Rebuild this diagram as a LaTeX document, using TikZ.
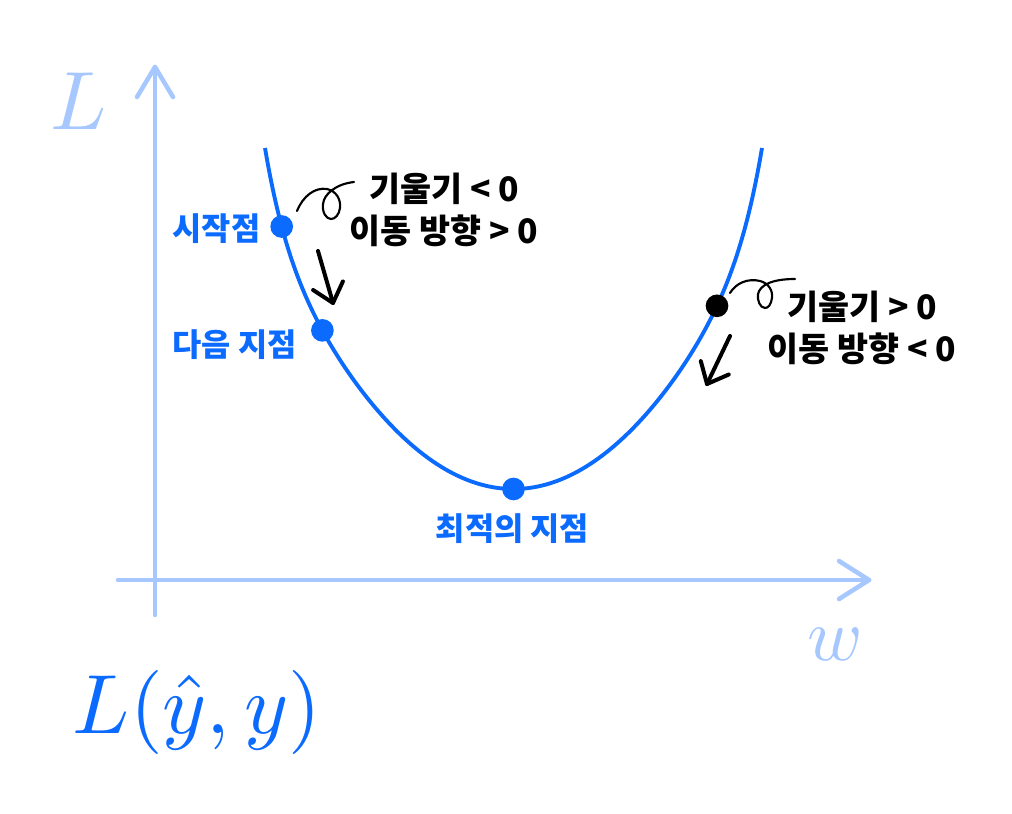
\documentclass[tikz,border=0pt]{standalone}
\usepackage{fontspec}
\newfontfamily\kr{Noto Sans CJK KR}
\definecolor{axisblue}{HTML}{A6C8FF}
\definecolor{mainblue}{HTML}{0B6BFF}
\begin{document}
\begin{tikzpicture}[x=0.75pt,y=-0.75pt,
  declare function={uu(\x)=((\x-513.5)/248.5)^2; fv(\x)=489-341*(0.77*uu(\x)+0.23*uu(\x)^6);},
  axis/.style={draw=axisblue,line width=3.4pt,line cap=round,line join=round},
  curve/.style={draw=mainblue,line width=2.9pt},
  dot/.style={circle,fill=mainblue,inner sep=0pt,minimum size=17pt},
  bdot/.style={dot,fill=black},
  move/.style={draw=black,line width=3pt,line cap=round,line join=round},
  curl/.style={draw=black,line width=1.6pt,line cap=round},
  bluelbl/.style={text=mainblue,font=\kr\bfseries\fontsize{23.8}{28}\selectfont,anchor=base,inner sep=0pt},
  blacklbl/.style={text=black,font=\kr\bfseries\fontsize{25.3}{30}\selectfont,anchor=base,inner sep=0pt},
  mathlbl/.style={inner sep=0pt,anchor=base}
]
\useasboundingbox (0,0) rectangle (1012,813);
\fill[white] (0,0) rectangle (1012,813);

% axes
\coordinate (yb) at (155,615);
\coordinate (yt) at (155,67);
\coordinate (ylw) at (137,97);
\coordinate (yrw) at (173,97);
\coordinate (xl) at (118,580);
\coordinate (xt) at (869,580);
\coordinate (xuw) at (839,561);
\coordinate (xdw) at (839,599);
\draw[axis] (yb) -- (yt);
\draw[axis] (ylw) -- (yt) -- (yrw);
\draw[axis] (xl) -- (xt);
\draw[axis] (xuw) -- (xt) -- (xdw);

\node[mathlbl,scale=6.2,text=axisblue] (Llbl) at (79,129) {$L$};
\node[mathlbl,scale=5.6,text=axisblue] (wlbl) at (835,660) {$w$};
\node[mathlbl,scale=6.3,text=mainblue] (loss) at (197,733) {$L(\hat{y},y)$};

% curve
\draw[curve] plot[domain=265:762,samples=200,smooth] (\x,{fv(\x)});

% points
\node[dot] (start) at (281.7,{fv(281.7)}) {};
\node[dot] (next) at (322.4,{fv(322.4)}) {};
\node[dot] (opt) at (513.5,489) {};
\node[bdot] (cur) at (717,{fv(717)}) {};

% blue labels
\node[bluelbl] (startlbl) at (216.5,240.5) {시작점};
\node[bluelbl] (nextlbl) at (234.5,356.5) {다음 지점};
\node[bluelbl] (optlbl) at (512.5,540.5) {최적의 지점};

% black labels
\node[blacklbl] (g1) at (444,201.5) {기울기 < 0};
\node[blacklbl] (m1) at (444,243.5) {이동 방향 > 0};
\node[blacklbl] (g2) at (862,319.5) {기울기 > 0};
\node[blacklbl] (m2) at (862,361.5) {이동 방향 < 0};

% curls
\coordinate (c1s) at (297,211);
\coordinate (c1e) at (354,182);
\draw[curl] (c1s) .. controls (303,196) and (315,187) .. (327,189)
  .. controls (336,191) and (341,199) .. (340,208)
  .. controls (339,215) and (335,219) .. (331,219)
  .. controls (326,219) and (322,212) .. (323,204)
  .. controls (324,194) and (336,184) .. (c1e);
\coordinate (c2s) at (730,293);
\coordinate (c2e) at (795,279);
\draw[curl] (c2s) .. controls (736,283) and (748,278) .. (760,281)
  .. controls (768,283) and (773,290) .. (772,298)
  .. controls (771,305) and (768,308) .. (765,308)
  .. controls (760,308) and (757,300) .. (758,294)
  .. controls (760,285) and (772,279) .. (c2e);

% move arrows
\coordinate (a1s) at (318,251);
\coordinate (a1t) at (333,303);
\coordinate (a1l) at (313.1,290);
\coordinate (a1r) at (342.9,281.4);
\draw[move] (a1s) -- (a1t);
\draw[move] (a1l) -- (a1t) -- (a1r);
\coordinate (a2s) at (730,336);
\coordinate (a2t) at (707,384);
\coordinate (a2l) at (700.8,361.1);
\coordinate (a2r) at (728.8,374.5);
\draw[move] (a2s) -- (a2t);
\draw[move] (a2l) -- (a2t) -- (a2r);
\end{tikzpicture}
\end{document}
